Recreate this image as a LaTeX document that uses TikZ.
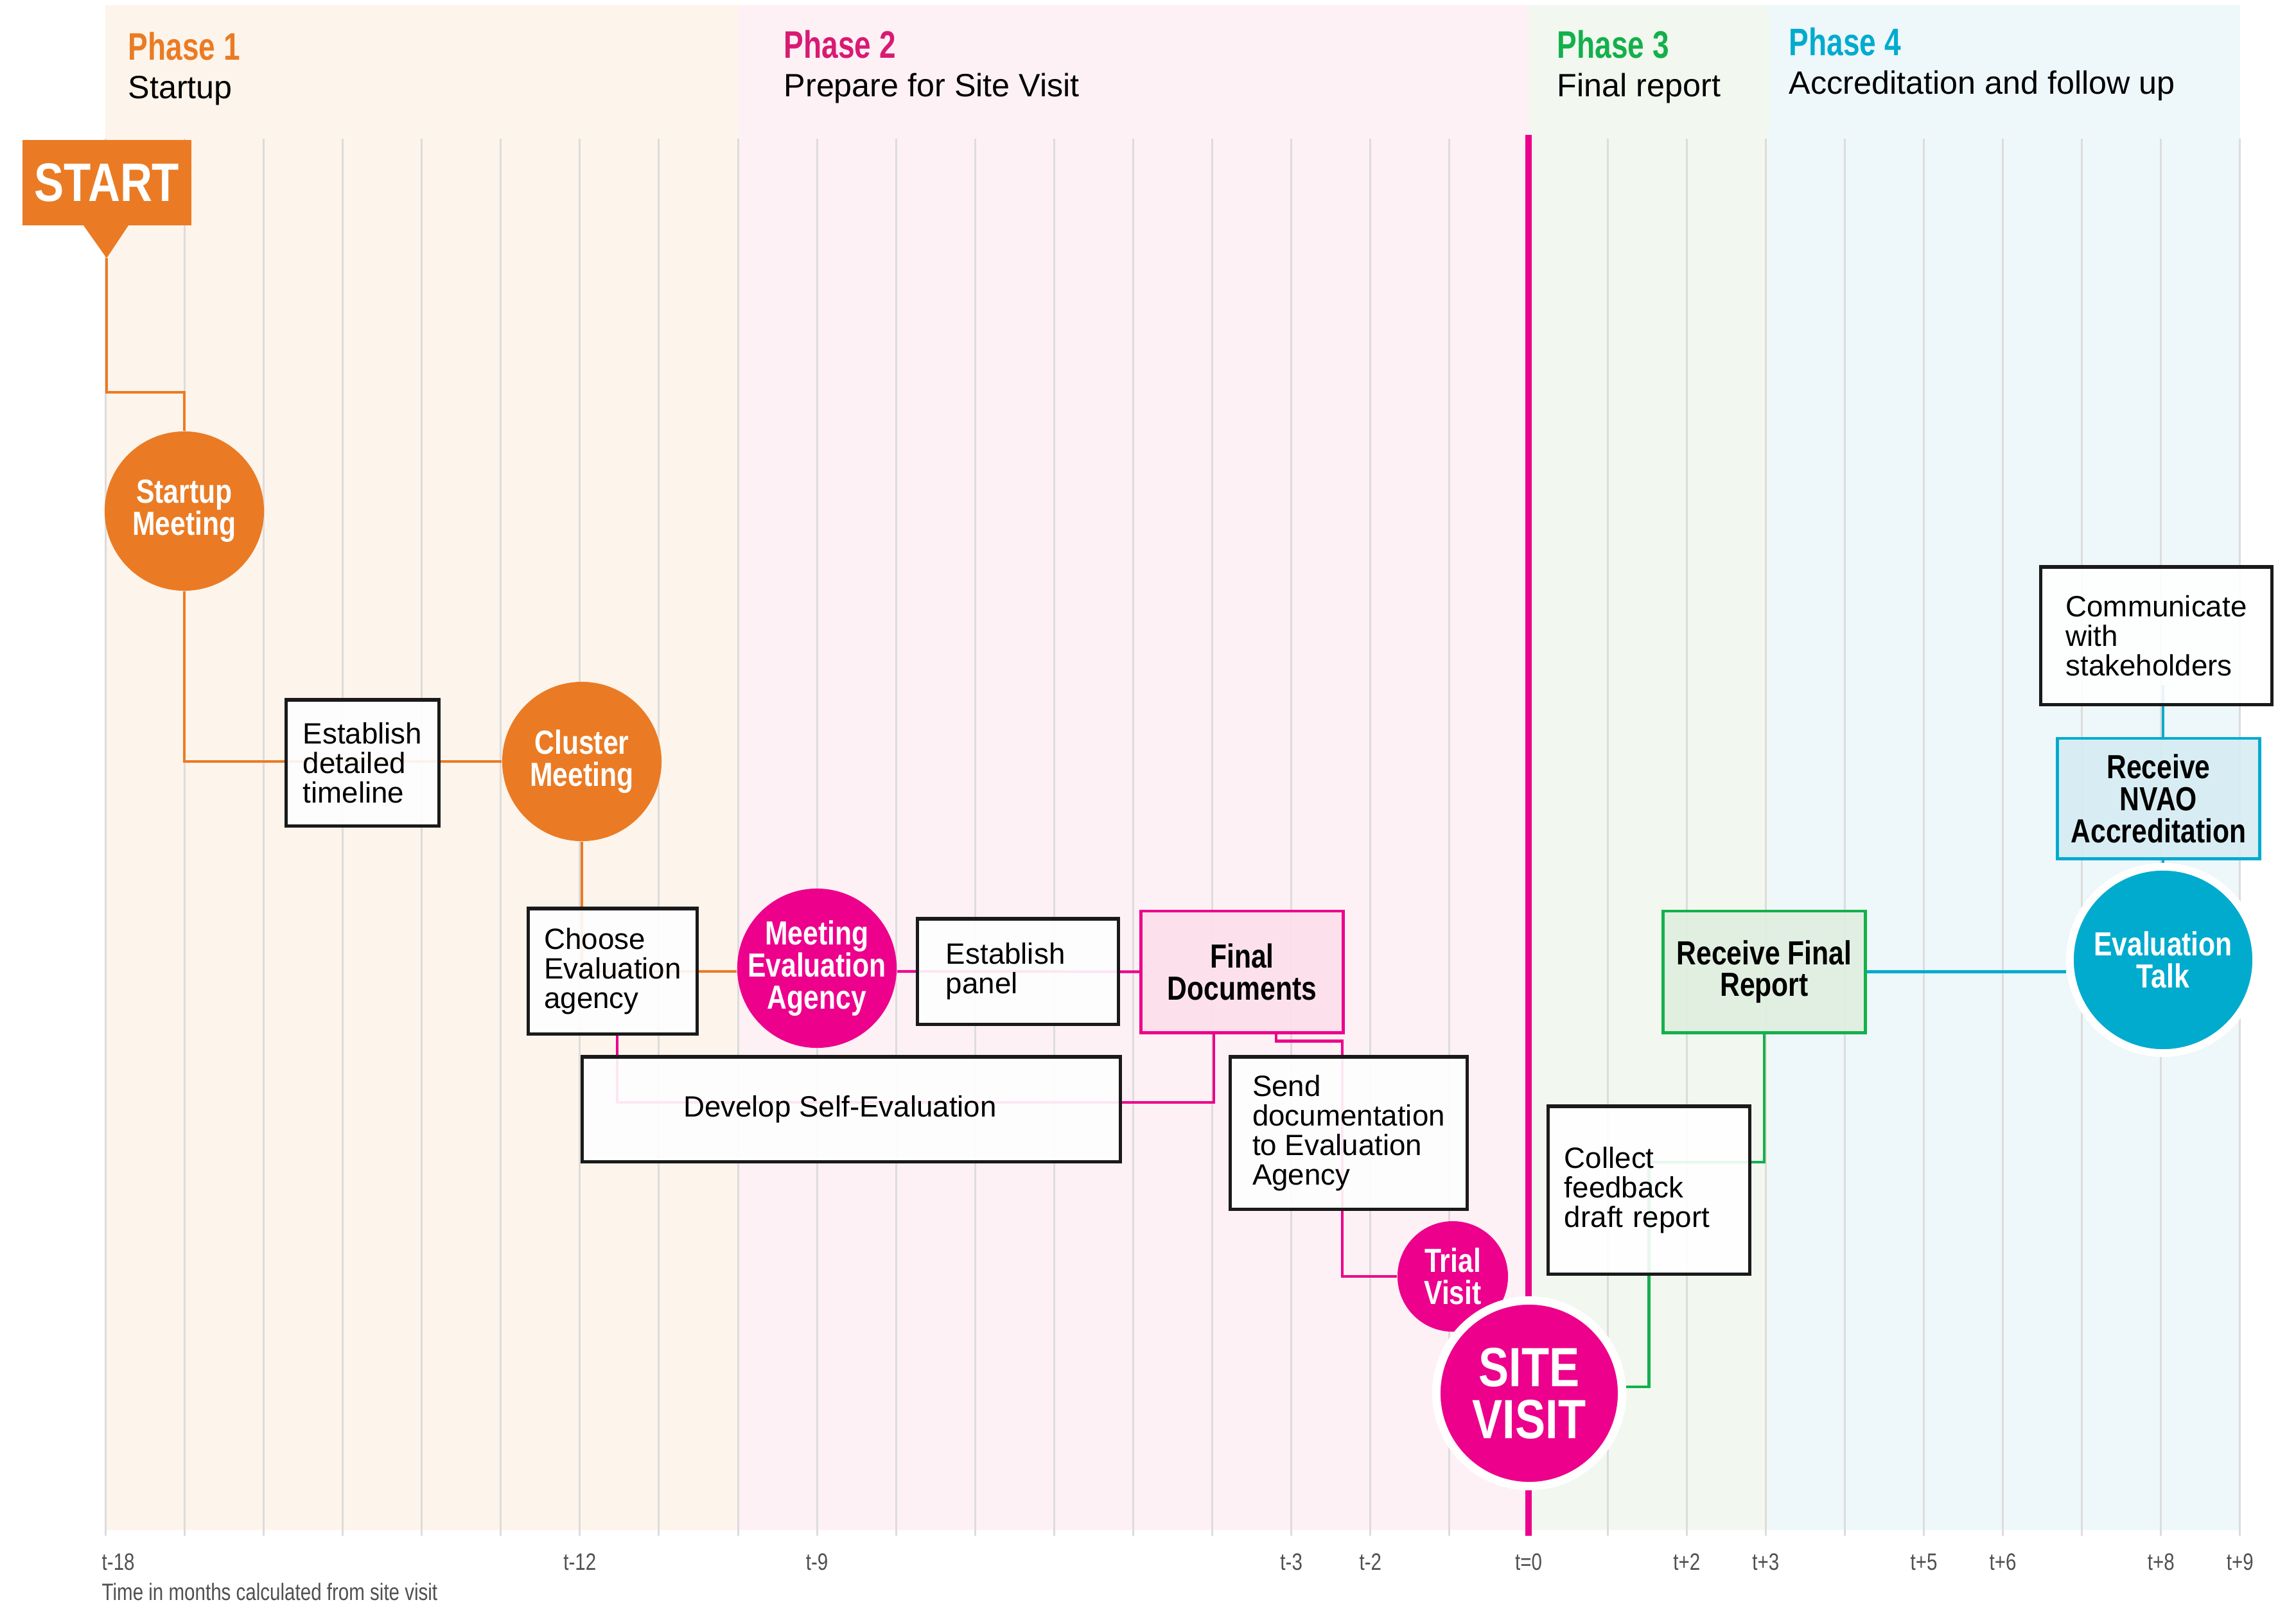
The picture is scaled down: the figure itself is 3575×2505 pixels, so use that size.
\documentclass[tikz,border=0pt]{standalone}
\usepackage{fontspec}
\setmainfont{Liberation Sans}
\newfontfamily\condfont{Liberation Sans}[FakeStretch=0.8]
\newfontfamily\boldcondfont{Liberation Sans}[FakeStretch=0.82]
\newfontfamily\phasecondfont{Liberation Sans}[FakeStretch=0.77]
\usepackage{tikz}
\usetikzlibrary{calc}

\definecolor{orangeP}{HTML}{EA7B24}
\definecolor{pinkP}{HTML}{EC008C}
\definecolor{phasetwoP}{HTML}{D81A73}
\definecolor{greenP}{HTML}{13B04B}
\definecolor{cyanP}{HTML}{00ABCE}
\definecolor{gridgray}{HTML}{DCDCDC}
\definecolor{boxblack}{HTML}{1A1A1A}
\definecolor{ticktext}{HTML}{505050}
\definecolor{phaseonefill}{HTML}{FDF4EB}
\definecolor{phasetwofill}{HTML}{FDF1F5}
\definecolor{phasethreefill}{HTML}{F2F7F0}
\definecolor{phasefourfill}{HTML}{EEF7FA}
\definecolor{pinkfill}{HTML}{FCE0EC}
\definecolor{greenfill}{HTML}{DFEFDF}
\definecolor{cyanfill}{HTML}{D6EDF3}

\newcommand{\phasefont}{\phasecondfont\bfseries\fontsize{17}{17}\selectfont}
\newcommand{\phasesubfont}{\fontsize{14.3}{14.3}\selectfont}
\newcommand{\taskfont}{\fontsize{13}{13.1}\selectfont}
\newcommand{\keyfont}{\boldcondfont\bfseries\fontsize{14.8}{14.2}\selectfont}
\newcommand{\sitefont}{\boldcondfont\bfseries\fontsize{24.5}{23}\selectfont}
\newcommand{\startfont}{\boldcondfont\bfseries\fontsize{24}{24}\selectfont}
\newcommand{\tickfont}{\condfont\fontsize{10.5}{10.5}\selectfont}

\pgfdeclarelayer{back}
\pgfdeclarelayer{links}
\pgfsetlayers{back,links,main}

\tikzset{
    gridline/.style={draw=gridgray, line width=0.85pt},
    link/.style={line width=1.2pt},
    taskbox/.style={rectangle, draw=boxblack, line width=1.45pt, fill=white,
        fill opacity=0.9, text opacity=1, font=\taskfont, align=left, inner sep=0pt},
    keybox/.style={rectangle, line width=1.4pt, fill opacity=0.9, text opacity=1,
        font=\keyfont, align=center, inner sep=0pt},
    meetdot/.style={circle, text=white, font=\keyfont, align=center, inner sep=-0.3cm},
    ticklabel/.style={font=\tickfont, text=ticktext, inner sep=0pt}
}

\begin{document}
\begin{tikzpicture}[x=0.01cm, y=-0.01cm]
    \useasboundingbox (0,0) rectangle (3575,2505);

    \begin{pgfonlayer}{back}
        % Phase bands
        \fill[white] (0,0) rectangle (3575,2505);
        \fill[phaseonefill] (164,8) rectangle (1149,2383);
        \fill[phasetwofill] (1149,8) rectangle (2380,2383);
        \fill[phasethreefill] (2380,8) rectangle (2755,2383);
        \fill[phasefourfill] (2755,8) rectangle (3488,2383);

        % Month grid
        \foreach \m in {-18,...,9}
            \draw[gridline] ({2380+123.1*\m},216) -- ({2380+123.1*\m},2392);

        % Site visit line
        \draw[pinkP, line width=2.85pt] (2380,210) -- (2380,2392);
    \end{pgfonlayer}

    % Phase titles
    \foreach \x/\n/\c/\s/\d in {199/1/orangeP/Startup/3,
            1220/2/phasetwoP/Prepare for Site Visit/0,
            2424/3/greenP/Final report/0,
            2785/4/cyanP/Accreditation and follow up/-4} {
        \node[anchor=base west, inner sep=0pt, text=\c, font=\phasefont] (phase\n) at (\x,{90+\d}) {Phase \n};
        \node[anchor=base west, inner sep=0pt, font=\phasesubfont] (sub\n) at (\x,{150+\d}) {\s};
    }

    % Time axis
    \node[ticklabel, anchor=base west] (tick-18) at (158,2445) {t-18};
    \foreach \m/\t in {-12/t-12, -9/t-9, -3/t-3, -2/t-2, 0/t=0, 2/t+2, 3/t+3, 5/t+5, 6/t+6, 8/t+8, 9/t+9}
        \node[ticklabel, anchor=base] (tick\m) at ({2380+123.1*\m},2445) {\t};
    \node[ticklabel, anchor=base west] (caption) at (158,2492) {Time in months calculated from site visit};

    % Start marker
    \node[fill=orangeP, text=white, font=\startfont, minimum width=2.63cm, minimum height=1.33cm,
        inner sep=0pt, outer sep=0pt] (start) at (166.5,284.5) {START};
    \coordinate (starttip) at (166,402);
    \fill[orangeP] ([xshift=-0.365cm]start.south) -- ([xshift=0.335cm]start.south) -- (starttip) -- cycle;

    % Phase 1
    \node[meetdot, fill=orangeP, minimum size=2.48cm] (startup) at (287,796) {Startup\\Meeting};
    \node[taskbox, minimum width=2.37cm, minimum height=1.96cm] (timeline) at (564.5,1188) {Establish\\detailed\\timeline};
    \node[meetdot, fill=orangeP, minimum size=2.48cm] (cluster) at (906,1186) {Cluster\\Meeting};
    \node[taskbox, minimum width=2.62cm, minimum height=1.95cm] (choose) at (954,1512.5) {Choose\\Evaluation\\agency};

    % Phase 2
    \node[meetdot, fill=pinkP, minimum size=2.48cm] (meeting) at (1272,1508) {Meeting\\Evaluation\\Agency};
    \node[taskbox, text width=2.24cm, inner xsep=0.44cm, minimum height=1.64cm] (panel) at (1585,1513) {Establish\\panel};
    \node[keybox, draw=pinkP, fill=pinkfill, minimum width=3.14cm, minimum height=1.89cm] (findoc) at (1934,1513.5) {Final\\Documents};
    \node[taskbox, align=center, minimum width=8.37cm, minimum height=1.63cm] (develop) at (1325.5,1727.5) {Develop Self-Evaluation\hspace{0.35cm}};
    \node[taskbox, minimum width=3.68cm, minimum height=2.37cm] (send) at (2100,1764.5) {Send\\documentation\\to Evaluation\\Agency};
    \node[meetdot, fill=pinkP, minimum size=1.72cm] (trial) at (2262,1988) {Trial\\Visit};
    \node[circle, fill=pinkP, draw=white, line width=3.7pt, minimum size=2.89cm, inner sep=0pt,
        text=white, font=\sitefont, align=center] (site) at (2381,2170) {SITE\\VISIT};

    % Phase 3
    \node[taskbox, text width=2.63cm, inner xsep=0.25cm, minimum height=2.61cm] (collect) at (2567.5,1853.5) {Collect\\feedback\\draft report};
    \node[keybox, draw=greenP, fill=greenfill, minimum width=3.14cm, minimum height=1.89cm] (rfr) at (2747,1513.5) {Receive Final\\Report};

    % Phase 4
    \node[circle, fill=cyanP, draw=white, line width=3.4pt, minimum size=2.9cm, inner sep=-0.3cm,
        text=white, font=\keyfont, align=center] (evaltalk) at (3368,1495) {Evaluation\\Talk};
    \node[keybox, draw=cyanP, fill=cyanfill, minimum width=3.14cm, minimum height=1.87cm] (nvao) at (3361,1243.5) {Receive\\NVAO\\Accreditation};
    \node[taskbox, minimum width=3.59cm, minimum height=2.14cm] (comm) at (3357.5,990) {Communicate\\with\\stakeholders};

    \begin{pgfonlayer}{links}
        % Orange flow
        \draw[link, orangeP] (starttip) -- ++(0,209) -| (startup.north);
        \draw[link, orangeP] (startup.south) |- (cluster.west);
        \draw[link, orangeP] (cluster.south) |- ([yshift=-0.05cm]meeting.west);

        % Pink flow
        \draw[link, pinkP] ([yshift=-0.05cm]meeting.east) -- (findoc.west);
        \draw[link, pinkP] ([xshift=0.07cm]choose.south) |- ([yshift=0.105cm]develop.east) -| ([xshift=-0.44cm]findoc.south);
        \draw[link, pinkP] ([xshift=0.53cm]findoc.south) |- ([xshift=-0.1cm,yshift=0.22cm]send.north) |- (trial.west);

        % Green flow
        \draw[link, greenP] ([yshift=0.1cm]site.east) -| ([yshift=0.435cm]collect.center) -| (rfr.south);

        % Cyan flow
        \draw[link, cyanP] (rfr.east) -- (rfr.east -| evaltalk.west);
        \draw[link, cyanP] (evaltalk.north) -- (evaltalk.north |- nvao.south);
        \draw[link, cyanP] (evaltalk.north |- nvao.north) -- ($(evaltalk.north |- comm.south)+(0,-33)$);
    \end{pgfonlayer}
\end{tikzpicture}
\end{document}
